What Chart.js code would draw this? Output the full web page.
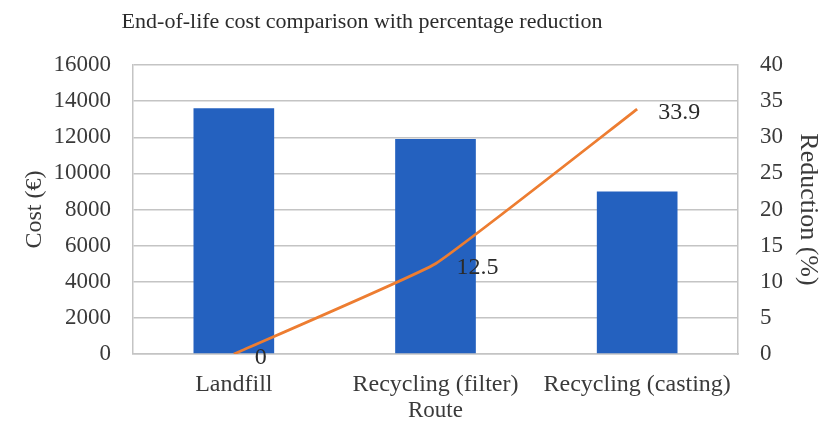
<!DOCTYPE html>
<html>
<head>
<meta charset="utf-8">
<script src="https://cdn.jsdelivr.net/npm/chart.js@4.4.1/dist/chart.umd.min.js"></script>
<style>
  html, body { margin: 0; padding: 0; background: #fff; }
  #wrap { width: 823px; height: 430px; }
</style>
</head>
<body>
<div id="wrap"><canvas id="chart" width="823" height="430"></canvas></div>
<script>
const routes = ['Landfill', 'Recycling (filter)', 'Recycling (casting)'];
const costs = [13600, 11900, 9000];
const reductions = [0, 12.5, 33.9];
const costTicks = [0, 16000, 2000];      // min, max, step
const reductionTicks = [0, 40, 5];

const FONT = "'Liberation Serif', 'Times New Roman', serif";
const TEXT = '#3a3a3a';
const GRID = '#c4c4c4';

// title drawn by hand so it sits left of centre like the original
const titlePlugin = {
    id: 'sideTitle',
    afterDraw(chart) {
        const ctx = chart.ctx;
        ctx.save();
        ctx.font = `22px ${FONT}`;
        ctx.fillStyle = '#2b2b2b';
        ctx.textAlign = 'center';
        ctx.textBaseline = 'middle';
        ctx.fillText('End-of-life cost comparison with percentage reduction', 362, 22);
        ctx.restore();
    }
};

// value labels to the right of each line point
const pointLabels = {
    id: 'pointLabels',
    afterDatasetsDraw(chart) {
        const ctx = chart.ctx;
        const meta = chart.getDatasetMeta(1);
        ctx.save();
        ctx.font = `24px ${FONT}`;
        ctx.fillStyle = '#2b2b2b';
        ctx.textAlign = 'left';
        ctx.textBaseline = 'middle';
        meta.data.forEach((pt, i) => {
            ctx.fillText(String(reductions[i]), pt.x + 21, pt.y + 4);
        });
        ctx.restore();
    }
};

new Chart(document.getElementById('chart'), {
    type: 'bar',
    data: {
        labels: routes,
        datasets: [{
            type: 'bar',
            label: 'Cost (€)',
            data: costs,
            backgroundColor: '#2461BF',
            barPercentage: 0.4,
            categoryPercentage: 1,
            yAxisID: 'y',
            order: 2
        }, {
            type: 'line',
            label: 'Reduction (%)',
            data: reductions,
            borderColor: '#ED7D31',
            borderWidth: 2.8,
            pointRadius: 0,
            tension: 0.1,
            yAxisID: 'y1',
            order: 1
        }]
    },
    options: {
        responsive: false,
        animation: false,
        layout: { padding: { top: 65, left: 0, right: 0, bottom: 0 } },
        plugins: {
            legend: { display: false },
            title: { display: false },
            tooltip: { enabled: false }
        },
        scales: {
            x: {
                grid: { drawOnChartArea: false, drawTicks: false },
                border: { display: true, color: GRID, width: 1.5 },
                ticks: { color: TEXT, font: { family: FONT, size: 24 }, padding: 16, maxRotation: 0 },
                title: { display: true, text: 'Route', color: TEXT, font: { family: FONT, size: 23 }, padding: { top: 0, bottom: 5 } },
                afterFit: s => { s.height = 76; }
            },
            y: {
                position: 'left',
                min: costTicks[0], max: costTicks[1],
                grid: { color: GRID, lineWidth: 1.5, drawTicks: false },
                border: { display: true, color: GRID, width: 1.5 },
                ticks: { stepSize: costTicks[2], color: TEXT, font: { family: FONT, size: 23 }, padding: 22,
                         callback: v => String(v) },
                title: { display: true, text: 'Cost (€)', color: TEXT, font: { family: FONT, size: 24 }, padding: { top: 20, bottom: 0 } },
                afterFit: s => { s.width = 133; }
            },
            y1: {
                position: 'right',
                min: reductionTicks[0], max: reductionTicks[1],
                grid: { drawOnChartArea: false, drawTicks: false },
                border: { display: true, color: GRID, width: 1.5 },
                ticks: { stepSize: reductionTicks[2], color: TEXT, font: { family: FONT, size: 23 }, padding: 22,
                         callback: v => String(v) },
                title: { display: true, text: 'Reduction (%)', color: TEXT, font: { family: FONT, size: 26 }, padding: { top: 0, bottom: 0 } },
                afterFit: s => { s.width = 85; }
            }
        }
    },
    plugins: [titlePlugin, pointLabels]
});
</script>
</body>
</html>
